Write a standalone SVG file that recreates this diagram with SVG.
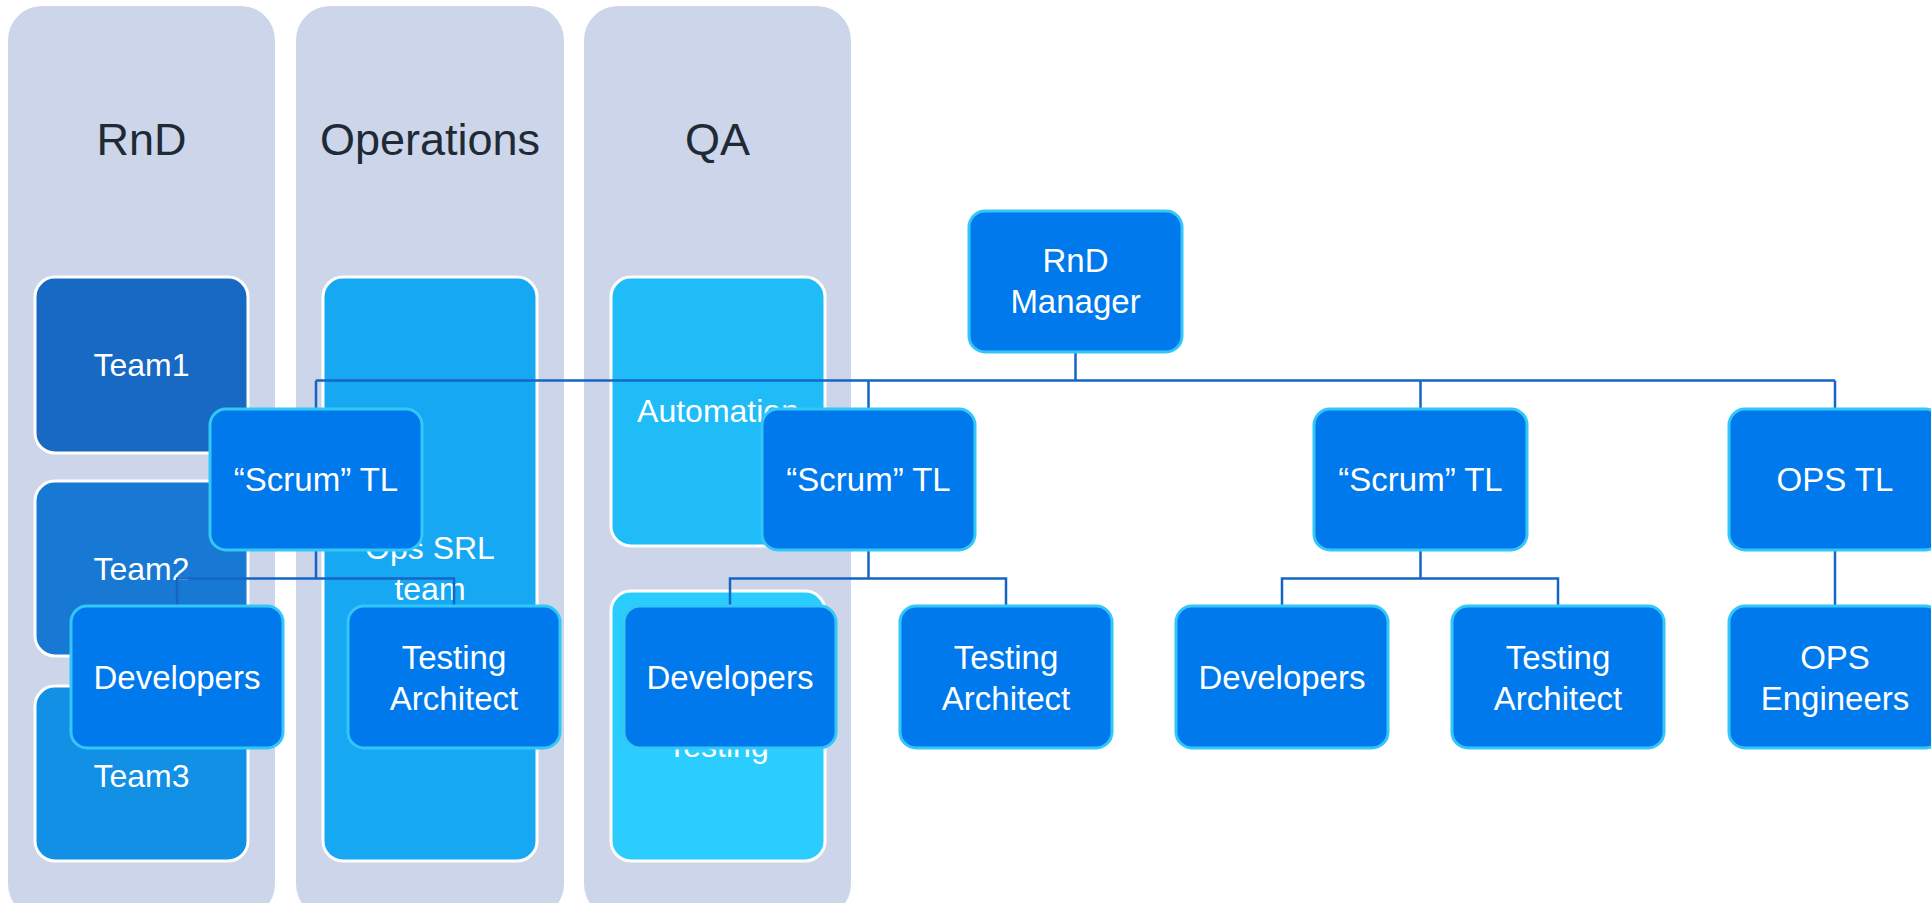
<svg xmlns="http://www.w3.org/2000/svg" width="1931" height="903" viewBox="0 0 1931 903">
<style>
.col{fill:#CCD5E9}
.inner{stroke:#FFFFFF;stroke-width:3}
.title{font-family:"Liberation Sans",Arial,sans-serif;font-size:45px;fill:#1E2A35;text-anchor:middle}
.itext{font-family:"Liberation Sans",Arial,sans-serif;font-size:32px;fill:#FFFFFF;text-anchor:middle}
.node rect{fill:#0079EC;stroke:#33C7F7;stroke-width:3}
.node text{font-family:"Liberation Sans",Arial,sans-serif;font-size:33px;fill:#FFFFFF;text-anchor:middle}
.conn{fill:none;stroke:#1565C6;stroke-width:2.5}
</style>
<rect width="1931" height="903" fill="#FFFFFF"/>
<g id="col-rnd">
<rect class="col" x="8" y="6" width="267" height="912" rx="34"/>
<text class="title" x="141.5" y="155">RnD</text>
</g>
<g id="col-ops">
<rect class="col" x="296" y="6" width="268" height="912" rx="34"/>
<text class="title" x="430" y="155">Operations</text>
</g>
<g id="col-qa">
<rect class="col" x="584" y="6" width="267" height="912" rx="34"/>
<text class="title" x="717.5" y="155">QA</text>
</g>
<g id="team1">
<rect class="inner" x="35" y="277" width="213" height="176" rx="20" fill="#1769C4"/>
<text class="itext" x="141.5" y="376">Team1</text>
</g>
<g id="team2">
<rect class="inner" x="35" y="481" width="213" height="175" rx="20" fill="#1779D3"/>
<text class="itext" x="141.5" y="580">Team2</text>
</g>
<g id="team3">
<rect class="inner" x="35" y="686" width="213" height="175" rx="20" fill="#1290E6"/>
<text class="itext" x="141.5" y="787">Team3</text>
</g>
<g id="ops-srl">
<rect class="inner" x="323" y="277" width="214" height="584" rx="20" fill="#16A8F3"/>
<text class="itext" x="430" y="559">Ops SRL</text>
<text class="itext" x="430" y="600">team</text>
</g>
<g id="automation">
<rect class="inner" x="611" y="277" width="214" height="269" rx="20" fill="#1FBCF8"/>
<text class="itext" x="718" y="422">Automation</text>
</g>
<g id="testing">
<rect class="inner" x="611" y="591" width="214" height="270" rx="20" fill="#2BCDFF"/>
<text class="itext" x="718" y="757">Testing</text>
</g>
<g id="connectors">
<path class="conn" d="M1075.5 352V380.5M316 380.5H1835M316 380.5V409M868.5 380.5V409M1420.5 380.5V409M1835 380.5V409"/>
<path class="conn" d="M316 550V578.5M177 606V578.5H454V606"/>
<path class="conn" d="M868.5 550V578.5M730 606V578.5H1006V606"/>
<path class="conn" d="M1420.5 550V578.5M1282 606V578.5H1558V606"/>
<path class="conn" d="M1835 550V606"/>
</g>
<g id="rnd-manager" class="node">
<rect x="969" y="211" width="213" height="141" rx="16"/>
<text x="1075.5" y="272">RnD</text>
<text x="1075.5" y="313">Manager</text>
</g>
<g id="scrum-tl-1" class="node">
<rect x="210" y="409" width="212" height="141" rx="16"/>
<text x="316" y="491">“Scrum” TL</text>
</g>
<g id="scrum-tl-2" class="node">
<rect x="762" y="409" width="213" height="141" rx="16"/>
<text x="868.5" y="491">“Scrum” TL</text>
</g>
<g id="scrum-tl-3" class="node">
<rect x="1314" y="409" width="213" height="141" rx="16"/>
<text x="1420.5" y="491">“Scrum” TL</text>
</g>
<g id="ops-tl" class="node">
<rect x="1729" y="409" width="212" height="141" rx="16"/>
<text x="1835" y="491">OPS TL</text>
</g>
<g id="developers-1" class="node">
<rect x="71" y="606" width="212" height="142" rx="16"/>
<text x="177" y="689">Developers</text>
</g>
<g id="testing-architect-1" class="node">
<rect x="348" y="606" width="212" height="142" rx="16"/>
<text x="454" y="669">Testing</text>
<text x="454" y="710">Architect</text>
</g>
<g id="developers-2" class="node">
<rect x="624" y="606" width="212" height="142" rx="16"/>
<text x="730" y="689">Developers</text>
</g>
<g id="testing-architect-2" class="node">
<rect x="900" y="606" width="212" height="142" rx="16"/>
<text x="1006" y="669">Testing</text>
<text x="1006" y="710">Architect</text>
</g>
<g id="developers-3" class="node">
<rect x="1176" y="606" width="212" height="142" rx="16"/>
<text x="1282" y="689">Developers</text>
</g>
<g id="testing-architect-3" class="node">
<rect x="1452" y="606" width="212" height="142" rx="16"/>
<text x="1558" y="669">Testing</text>
<text x="1558" y="710">Architect</text>
</g>
<g id="ops-engineers" class="node">
<rect x="1729" y="606" width="212" height="142" rx="16"/>
<text x="1835" y="669">OPS</text>
<text x="1835" y="710">Engineers</text>
</g>
</svg>
